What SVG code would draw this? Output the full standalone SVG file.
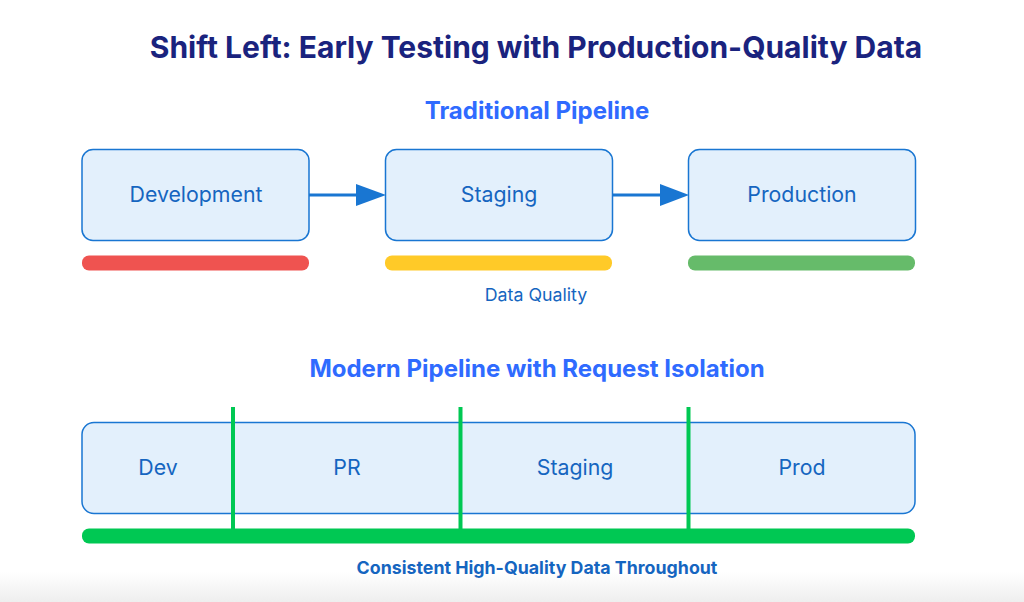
<svg xmlns="http://www.w3.org/2000/svg" width="1024" height="602" viewBox="0 0 1024 602">
<defs>
<style>
.title{font-family:Inter,"Liberation Sans",sans-serif;font-weight:700;font-size:30px;fill:#1a237e;text-anchor:middle}
.sub{font-family:Inter,"Liberation Sans",sans-serif;font-weight:700;font-size:24px;fill:#2f6bff;text-anchor:middle}
.box{fill:#e3f0fc;stroke:#1976d2;stroke-width:1.5}
.lbl{font-family:Inter,"Liberation Sans",sans-serif;font-size:21.3px;fill:#1565c0;text-anchor:middle}
.small{font-family:Inter,"Liberation Sans",sans-serif;font-size:17.8px;fill:#1565c0;text-anchor:middle}
.smallb{font-family:Inter,"Liberation Sans",sans-serif;font-size:17.8px;font-weight:700;fill:#1565c0;text-anchor:middle}
.conn{stroke:#1976d2;stroke-width:3;fill:none}
.vline{stroke:#00c853;stroke-width:4}
</style>
<linearGradient id="fade" x1="0" y1="0" x2="0" y2="1">
<stop offset="0" stop-color="#ffffff"/>
<stop offset="1" stop-color="#eeeeee"/>
</linearGradient>
</defs>
<rect width="1024" height="602" fill="#ffffff"/>
<rect y="572" width="1024" height="30" fill="url(#fade)"/>
<text class="title" x="536" y="58">Shift Left: Early Testing with Production-Quality Data</text>
<text class="sub" x="537" y="119">Traditional Pipeline</text>

<g id="connectors">
<path class="conn" d="M309,195 L356,195"/>
<path d="M356,184 L386,195 L356,206 Z" fill="#1976d2"/>
<path class="conn" d="M612,195 L660,195"/>
<path d="M660,184 L689,195 L660,206 Z" fill="#1976d2"/>
</g>

<g id="development">
<rect class="box" x="82" y="149.5" width="227" height="91" rx="11"/>
<text class="lbl" x="196" y="202">Development</text>
</g>
<g id="staging">
<rect class="box" x="385.5" y="149.5" width="227" height="91" rx="11"/>
<text class="lbl" x="499" y="202">Staging</text>
</g>
<g id="production">
<rect class="box" x="688.5" y="149.5" width="227" height="91" rx="11"/>
<text class="lbl" x="802" y="202">Production</text>
</g>

<g id="quality-bars">
<rect x="82" y="255.5" width="227" height="15" rx="7" fill="#ef5350"/>
<rect x="385" y="255.5" width="227" height="15" rx="7" fill="#ffca28"/>
<rect x="688" y="255.5" width="227" height="15" rx="7" fill="#66bb6a"/>
<text class="small" x="536" y="301">Data Quality</text>
</g>

<text class="sub" x="537" y="377">Modern Pipeline with Request Isolation</text>

<g id="modern-pipeline">
<rect class="box" x="82" y="422.5" width="833" height="91" rx="12"/>
<text class="lbl" x="158" y="475">Dev</text>
<text class="lbl" x="347" y="475">PR</text>
<text class="lbl" x="575" y="475">Staging</text>
<text class="lbl" x="802" y="475">Prod</text>
</g>

<g id="isolation">
<rect x="82" y="528.5" width="833" height="15" rx="7" fill="#00c853"/>
<line class="vline" x1="233" y1="407" x2="233" y2="529"/>
<line class="vline" x1="460.5" y1="407" x2="460.5" y2="529"/>
<line class="vline" x1="688.5" y1="407" x2="688.5" y2="529"/>
<text class="smallb" x="537" y="574">Consistent High-Quality Data Throughout</text>
</g>
</svg>
